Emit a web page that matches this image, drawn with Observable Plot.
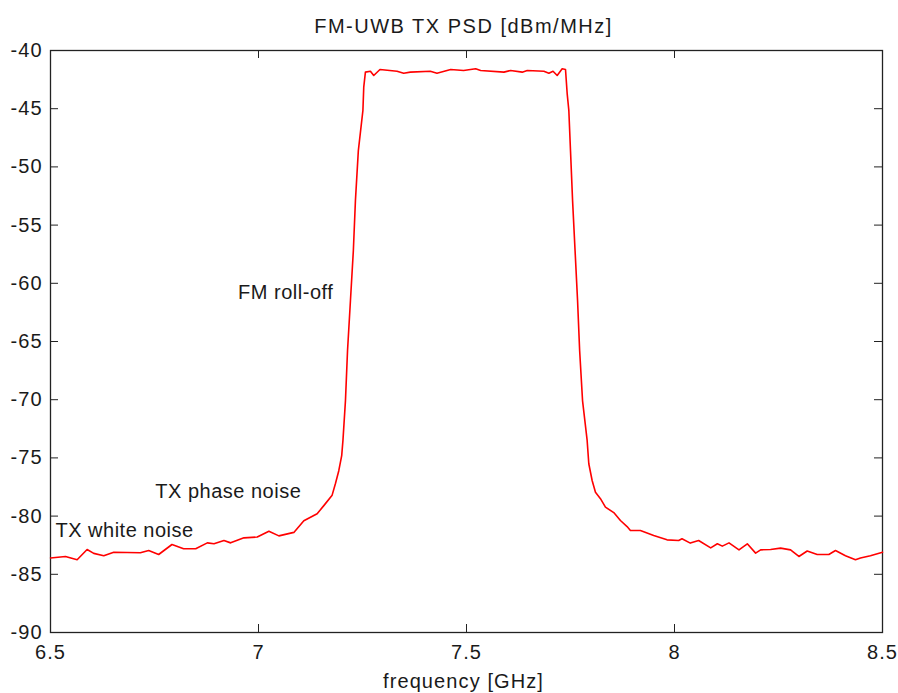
<!DOCTYPE html>
<html>
<head>
<meta charset="utf-8">
<script src="https://cdn.jsdelivr.net/npm/d3@7"></script>
<script src="https://cdn.jsdelivr.net/npm/@observablehq/plot@0.6"></script>
<style>
  html, body { margin: 0; padding: 0; background: #fff; }
  svg { display: block; }
  g[aria-label="x-axis tick label"] text,
  g[aria-label="y-axis tick label"] text { letter-spacing: 1px; }
  g.ann text { letter-spacing: 0.5px; }
  g.ttl text { letter-spacing: 1.5px; }
  g.xlab text { letter-spacing: 1.1px; }
</style>
</head>
<body>
<div id="chart"></div>
<script>
const titleText = "FM-UWB TX PSD [dBm/MHz]";
const xLabelText = "frequency [GHz]";
const xTicks = [6.5, 7, 7.5, 8, 8.5];
const yTicks = [-90, -85, -80, -75, -70, -65, -60, -55, -50, -45, -40];

const freq = [
  6.500, 6.536, 6.564, 6.588, 6.604, 6.628, 6.652, 6.716, 6.736, 6.760,
  6.792, 6.820, 6.849, 6.877, 6.893, 6.917, 6.933, 6.965, 6.997, 7.025,
  7.049, 7.085, 7.109, 7.141, 7.157, 7.177, 7.185, 7.193, 7.200, 7.203,
  7.209, 7.214, 7.221, 7.228, 7.233, 7.240, 7.251, 7.253, 7.257, 7.269,
  7.277, 7.292, 7.333, 7.349, 7.365, 7.413, 7.429, 7.462, 7.493, 7.522,
  7.534, 7.590, 7.606, 7.634, 7.646, 7.686, 7.698, 7.708, 7.718, 7.730,
  7.738, 7.742, 7.746, 7.750, 7.755, 7.761, 7.767, 7.772, 7.779, 7.790,
  7.794, 7.802, 7.810, 7.822, 7.834, 7.854, 7.870, 7.886, 7.894, 7.918,
  7.950, 7.982, 8.010, 8.018, 8.038, 8.058, 8.087, 8.103, 8.115, 8.131,
  8.155, 8.175, 8.195, 8.207, 8.231, 8.255, 8.279, 8.299, 8.319, 8.343,
  8.371, 8.387, 8.411, 8.435, 8.447, 8.471, 8.500
];
const psd = [
  -83.60, -83.47, -83.75, -82.87, -83.20, -83.40, -83.10, -83.15, -82.96, -83.30,
  -82.44, -82.80, -82.80, -82.30, -82.38, -82.10, -82.30, -81.87, -81.80, -81.30,
  -81.70, -81.40, -80.40, -79.80, -79.10, -78.20, -77.20, -76.10, -74.80, -73.50,
  -70.10, -65.80, -61.50, -57.20, -52.90, -48.60, -45.15, -43.15, -41.86, -41.78,
  -42.15, -41.63, -41.78, -41.95, -41.86, -41.78, -41.95, -41.63, -41.72, -41.57,
  -41.72, -41.86, -41.72, -41.86, -41.72, -41.78, -41.95, -41.78, -42.15, -41.57,
  -41.63, -43.70, -45.15, -48.60, -52.90, -57.20, -61.50, -65.80, -70.10, -73.50,
  -75.50, -76.94, -77.95, -78.50, -79.23, -79.70, -80.38, -80.90, -81.24, -81.24,
  -81.67, -82.04, -82.10, -81.95, -82.32, -82.10, -82.73, -82.38, -82.58, -82.30,
  -82.90, -82.38, -83.18, -82.90, -82.87, -82.75, -82.90, -83.47, -83.00, -83.30,
  -83.30, -82.96, -83.40, -83.75, -83.60, -83.40, -83.10
];

const annLabels = ["FM roll-off", "TX phase noise", "TX white noise"];
const annX = [6.951, 6.752, 6.512];
const annY = [-60.8, -77.9, -81.25];

const series = freq.map((f, i) => ({f, v: psd[i]}));
const annotations = annLabels.map((t, i) => ({t, x: annX[i], y: annY[i]}));

const W = 898, H = 693, mL = 50, mR = 16, mT = 50, mB = 61;
const frameW = W - mL - mR, frameH = H - mT - mB, tickLen = 8;

const chart = Plot.plot({
  width: W,
  height: H,
  marginLeft: mL,
  marginRight: mR,
  marginTop: mT,
  marginBottom: mB,
  style: {fontFamily: "'Liberation Sans', Arial, sans-serif", fontSize: "20px", background: "#fff", color: "#000", overflow: "visible"},
  x: {domain: [6.5, 8.5]},
  y: {domain: [-90, -40]},
  marks: [
    Plot.axisX(xTicks, {tickSize: 0, tickPadding: 12, label: null, tickFormat: d => String(d), fontSize: 20, fill: "#1a1a1a"}),
    Plot.axisY(yTicks, {tickSize: 0, tickPadding: 8, label: null, tickFormat: d => String(d), fontSize: 20, fill: "#1a1a1a"}),
    Plot.ruleX(xTicks, {x: d => d, insetTop: frameH - tickLen, stroke: "#222"}),
    Plot.ruleX(xTicks, {x: d => d, insetBottom: frameH - tickLen, stroke: "#222"}),
    Plot.ruleY(yTicks, {y: d => d, insetRight: frameW - tickLen, stroke: "#222"}),
    Plot.ruleY(yTicks, {y: d => d, insetLeft: frameW - tickLen, stroke: "#222"}),
    Plot.frame({stroke: "#222", strokeWidth: 1.3}),
    Plot.line(series, {x: "f", y: "v", stroke: "#ff0000", strokeWidth: 1.6}),
    Plot.text(annotations, {x: "x", y: "y", text: "t", textAnchor: "start", lineAnchor: "middle", fontSize: 20, fill: "#1a1a1a", className: "ann"}),
    Plot.text([titleText], {frameAnchor: "top", dy: -24, dx: -3, text: d => d, fontSize: 20, lineAnchor: "middle", fill: "#1a1a1a", className: "ttl"}),
    Plot.text([xLabelText], {frameAnchor: "bottom", dy: 49, dx: -3, text: d => d, fontSize: 20, lineAnchor: "middle", fill: "#1a1a1a", className: "xlab"})
  ]
});
document.getElementById("chart").appendChild(chart);
</script>
</body>
</html>
